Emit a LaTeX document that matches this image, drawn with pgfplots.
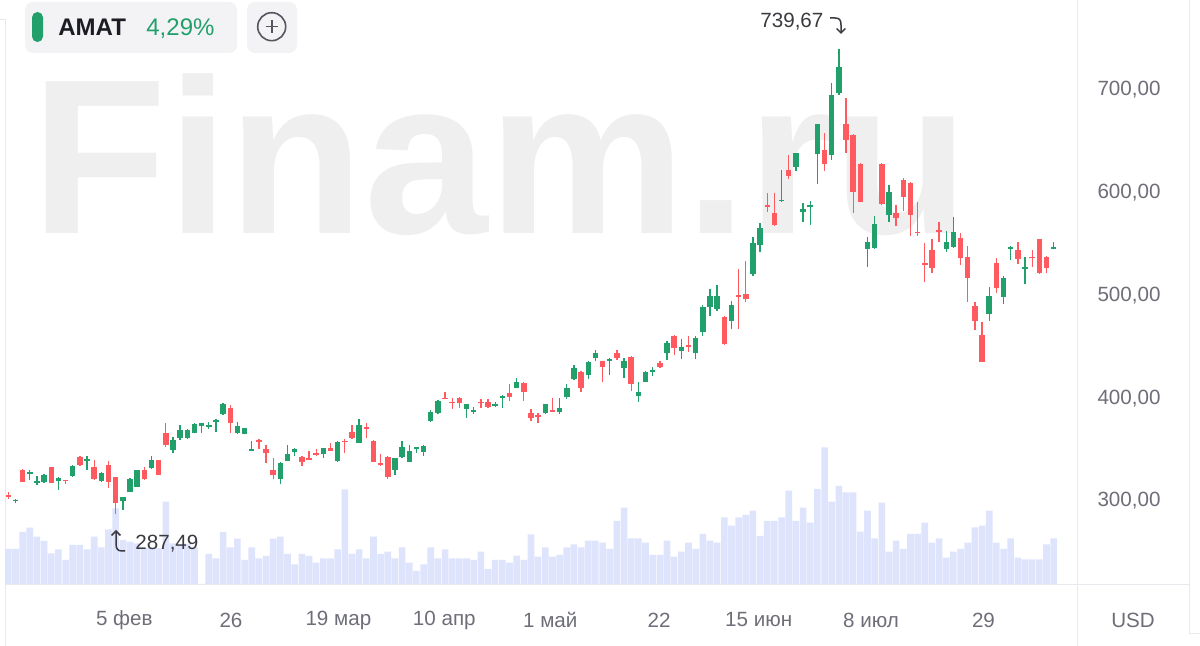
\documentclass[border=0pt]{standalone}
\usepackage{pgfplots}
\pgfplotsset{compat=1.18}
\usepackage{pgfplotstable}
\usepackage{fontspec}
\setmainfont{Liberation Sans}
\usetikzlibrary{arrows.meta}
\definecolor{cgreen}{HTML}{22A06B}
\definecolor{cred}{HTML}{FF5A5F}
\definecolor{cvol}{HTML}{DFE4FD}
\definecolor{cline}{HTML}{E8E8EE}
\definecolor{ctick}{HTML}{6E6E78}
\definecolor{cwm}{HTML}{EFEFEF}
\definecolor{cbox}{HTML}{F3F3F6}
\definecolor{cdark}{HTML}{1C1C24}
\definecolor{clab}{HTML}{3A3A40}
\definecolor{cplus}{HTML}{55555F}

\pgfplotstableread{
i o h l c
1 299.7 302.0 297.7 301.0
3 326.2 330.2 320.4 327.9
4 317.7 324.4 315.4 319.7
5 318.7 326.4 317.7 325.4
7 319.7 323.1 310.7 322.1
9 324.3 335.2 323.6 334.2
11 339.2 343.9 330.2 340.9
13 319.7 328.5 318.7 326.9
16 300.3 304.3 291.2 303.7
17 309.0 322.1 308.5 321.1
18 314.0 330.6 313.4 330.2
20 331.9 343.9 330.9 339.9
23 349.6 362.7 346.3 359.4
24 361.1 374.1 359.4 369.1
25 361.1 370.0 360.5 369.1
26 366.4 375.5 365.8 374.8
27 372.8 375.9 366.4 375.5
28 372.1 377.1 370.5 373.8
29 377.1 379.5 367.4 378.8
30 384.6 395.0 383.6 394.3
32 365.8 377.1 365.1 372.8
33 365.1 371.1 364.8 370.8
34 348.6 358.7 348.3 350.3
38 321.1 337.6 316.4 337.2
39 339.2 354.6 338.8 345.6
40 347.9 351.3 343.6 350.3
44 345.6 351.7 341.6 351.3
46 339.2 358.7 338.2 357.7
49 356.9 379.5 356.3 374.1
54 330.2 342.0 325.2 341.6
55 342.6 358.7 341.6 352.3
56 338.2 354.6 337.8 348.9
57 350.3 352.7 346.3 352.3
58 347.9 354.0 343.9 353.6
59 378.1 388.6 377.1 386.9
60 385.3 398.3 384.3 397.3
64 389.3 394.4 380.9 394.0
65 386.9 391.9 384.3 388.6
68 392.6 396.6 391.6 394.3
69 400.6 402.7 390.6 402.3
71 410.3 420.1 409.7 416.1
75 385.3 394.4 384.3 394.0
77 386.3 400.0 384.3 390.3
78 401.3 413.5 399.7 410.3
79 418.8 432.5 417.8 429.2
81 422.5 436.2 418.8 435.5
82 438.9 447.0 436.2 443.7
84 436.2 438.9 422.5 438.2
86 429.2 439.5 419.8 436.2
88 402.3 416.1 396.6 406.3
89 416.1 426.2 415.8 425.8
90 425.8 430.8 421.8 427.5
92 443.7 456.0 437.2 454.0
94 446.3 457.4 437.9 450.3
96 443.7 460.7 437.9 458.4
97 464.7 490.9 460.7 489.2
98 489.2 506.1 480.2 499.6
99 486.6 510.1 485.2 499.6
101 475.5 494.9 467.1 490.9
104 520.8 557.3 519.1 550.7
105 549.0 570.2 542.6 565.4
108 591.6 622.1 591.2 593.2
110 624.8 638.9 621.4 638.3
111 581.5 590.2 571.8 583.9
112 585.9 592.2 568.5 588.2
113 637.6 667.2 608.4 666.8
115 636.6 707.0 631.9 695.1
116 696.7 739.67 695.1 722.2
120 545.0 556.7 527.9 552.3
121 546.0 577.5 545.0 569.5
123 578.2 607.4 571.8 601.0
131 545.0 563.0 542.6 552.3
132 547.6 576.2 546.0 562.0
137 481.9 508.7 475.5 499.6
139 498.3 519.1 491.6 516.8
140 545.0 548.3 534.6 547.0
142 526.1 537.3 511.1 527.5
146 545.3 552.3 545.0 547.0
}\greentab

\pgfplotstableread{
i o h l c
0 305.7 309.0 301.7 304.3
2 330.2 330.9 318.2 318.7
6 332.9 333.5 317.1 317.7
8 320.4 320.8 316.4 319.1
10 342.6 343.9 334.2 334.9
12 333.5 339.9 320.4 321.1
14 335.2 338.5 312.3 318.7
15 323.1 323.5 287.49 297.7
19 330.2 333.5 320.4 321.1
21 339.9 340.3 324.9 325.2
22 365.8 375.5 352.9 354.6
31 390.3 393.6 365.8 375.5
35 359.4 360.4 350.3 357.7
36 350.3 354.6 336.6 346.3
37 330.2 341.6 321.1 325.2
41 343.2 343.9 334.2 338.2
42 341.6 348.6 339.5 339.9
43 346.3 350.3 344.0 344.3
45 351.3 356.9 348.5 348.9
47 358.7 360.1 346.3 357.4
48 367.4 374.1 360.1 361.1
50 371.8 376.1 361.1 369.8
51 358.7 359.1 337.8 338.2
52 337.2 345.6 334.5 334.9
53 343.2 343.9 321.1 323.7
61 400.6 406.3 398.9 399.3
62 396.6 400.0 389.3 395.0
63 400.0 401.6 390.6 395.0
66 396.6 399.3 390.6 395.0
67 396.6 399.3 390.6 391.6
70 404.7 413.5 397.3 401.3
72 415.1 416.1 397.3 405.7
73 385.3 389.6 377.8 380.3
74 383.6 385.3 375.5 381.9
76 388.6 400.0 386.5 386.9
80 425.8 426.2 405.7 410.3
83 436.2 436.6 416.1 430.5
85 443.7 447.0 437.2 438.9
87 440.5 440.9 407.0 413.5
91 434.2 436.2 429.8 430.5
93 460.7 461.7 442.0 448.7
95 452.0 460.7 445.3 450.3
100 479.5 480.2 451.7 452.7
102 500.6 525.5 467.1 498.3
103 501.6 533.9 493.9 496.3
106 588.2 599.4 581.5 585.9
107 579.9 599.4 567.5 568.5
109 622.1 636.6 613.1 616.1
114 641.6 657.8 621.4 627.9
117 666.8 691.9 638.3 651.3
118 656.3 656.7 580.5 601.0
119 627.9 629.2 590.8 591.2
122 627.9 629.2 588.0 588.9
124 580.5 588.2 567.5 575.1
125 612.4 614.1 582.5 596.0
126 609.7 610.1 558.0 578.2
127 562.0 591.2 558.0 560.4
128 531.2 550.7 513.4 529.6
129 544.3 554.7 521.5 526.5
130 563.7 571.8 552.3 561.7
133 555.7 561.0 529.6 536.2
134 537.8 548.3 493.9 516.8
135 489.9 493.9 466.4 475.5
136 461.7 474.5 435.1 435.5
138 531.2 536.2 502.7 507.1
141 544.3 552.3 530.6 535.3
143 537.8 544.3 527.9 536.2
144 554.7 555.1 521.1 521.5
145 537.2 538.5 521.5 526.5
}\redtab

\pgfplotstableread{
i v
0 35.0
1 35.0
2 52.0
3 56.3
4 47.3
5 43.0
6 30.7
7 34.7
8 24.0
9 39.0
10 39.0
11 34.7
12 47.3
13 36.7
14 54.7
15 75.7
16 44.0
17 42.3
18 40.7
19 36.0
20 36.0
21 36.0
22 82.3
23 40.7
24 40.0
25 40.0
26 36.7
27 0
28 30.0
29 25.7
30 52.0
31 36.7
32 45.3
33 24.0
34 36.7
35 25.7
36 28.0
37 45.3
38 47.3
39 30.0
40 19.7
41 30.0
42 28.0
43 21.3
44 25.7
45 25.7
46 34.7
47 94.7
48 30.0
49 34.7
50 25.7
51 47.3
52 30.0
53 32.3
54 25.7
55 36.7
56 21.3
57 13.0
58 19.7
59 36.7
60 25.7
61 34.7
62 25.7
63 25.7
64 25.7
65 24.0
66 32.3
67 15.0
68 24.0
69 24.0
70 21.3
71 28.3
72 24.0
73 49.7
74 27.3
75 36.7
76 27.3
77 29.0
78 36.7
79 39.7
80 36.7
81 43.3
82 43.3
83 41.3
84 35.0
85 63.0
86 76.3
87 45.7
88 45.7
89 41.3
90 29.0
91 29.0
92 43.3
93 27.3
94 32.3
95 41.3
96 35.0
97 50.0
98 43.3
99 41.3
100 66.7
101 58.3
102 66.7
103 69.0
104 73.3
105 48.0
106 63.0
107 63.0
108 66.7
109 93.3
110 63.0
111 76.3
112 61.3
113 95.0
114 136.7
115 82.3
116 98.0
117 91.7
118 91.7
119 52.3
120 73.3
121 45.7
122 81.3
123 32.3
124 43.3
125 35.0
126 50.0
127 50.0
128 61.3
129 41.3
130 45.7
131 26.3
132 32.3
133 35.0
134 41.3
135 56.7
136 58.3
137 73.3
138 41.3
139 35.0
140 45.7
141 26.3
142 24.7
143 24.7
144 24.7
145 39.7
146 45.7
}\voltab

\begin{document}
\begin{tikzpicture}[x=0.5pt,y=0.5pt]
\path[use as bounding box, fill=white] (0,0) rectangle (1200,646);
% watermark
\node[anchor=base west, inner sep=0, text=cwm, font=\fontsize{110.3}{110}\selectfont\bfseries, xscale=1.007] at (31,412) {Finam.ru};
% frame lines
\draw[cline, line width=0.5pt] (5.5,0) -- (5.5,626) (0,626) -- (5.5,626);
\draw[cline, line width=0.5pt] (5.5,61.5) -- (1189,61.5);
\draw[cline, line width=0.5pt] (1077,0) -- (1077,646);
\draw[cline, line width=0.5pt] (1189,646) -- (1189,12) -- (1200,12);
% volume
\begin{axis}[at={(2.5pt,31pt)}, anchor=south west, width=536pt, height=292pt, scale only axis,
  xmin=-0.461, xmax=149.26, ymin=0, ymax=584, hide axis, clip=false]
\addplot[ybar, bar width=0.92, fill=cvol, draw=none] table[x=i,y=v]{\voltab};
\end{axis}
% candles
\begin{axis}[at={(2.5pt,31pt)}, anchor=south west, width=536pt, height=292pt, scale only axis,
  xmin=-0.461, xmax=149.26, ymin=219.2, ymax=787.6,
  axis line style={draw=none}, major tick length=0pt, clip=false,
  ytick={300,400,500,600,700}, yticklabel pos=right,
  /pgf/number format/assume math mode=true,
  yticklabel={\pgfmathprintnumber[fixed,fixed zerofill,precision=2,use comma,1000 sep={}]{\tick}},
  yticklabel style={anchor=center, xshift=26pt, text=ctick, font=\fontsize{10.3}{12}\selectfont},
  xtick={16.2,31.1,46.1,60.9,75.7,90.9,104.8,120.5,136.2},
  xticklabels={5 фев,26,19 мар,10 апр,1 май,22,15 июн,8 июл,29},
  xticklabel style={anchor=center, yshift=-18pt, text=ctick, font=\fontsize{10.3}{12}\selectfont},
  candle/.style={only marks, mark=*, mark size=0pt, mark options={draw opacity=0, fill opacity=0},
    error bars/y dir=plus, error bars/y explicit, error bars/error mark=none}]
\addplot[cgreen, candle, error bars/error bar style={line width=0.65pt, cgreen}]
  table[x=i, y=l, y error plus expr=\thisrow{h}-\thisrow{l}]{\greentab};
\addplot[cgreen, candle, error bars/error bar style={line width=2.75pt, cgreen}]
  table[x=i, y=o, y error plus expr=\thisrow{c}-\thisrow{o}]{\greentab};
\addplot[cred, candle, error bars/error bar style={line width=0.65pt, cred}]
  table[x=i, y=l, y error plus expr=\thisrow{h}-\thisrow{l}]{\redtab};
\addplot[cred, candle, error bars/error bar style={line width=2.75pt, cred}]
  table[x=i, y=c, y error plus expr=\thisrow{o}-\thisrow{c}]{\redtab};
\end{axis}
% USD
\node[text=ctick, font=\fontsize{10.3}{12}\selectfont] at (1133,26) {USD};
% header
\fill[cbox, rounded corners=4pt] (25,644) rectangle (237,593);
\fill[cgreen, rounded corners=2.7pt] (32,634) rectangle (43,604);
\node[anchor=base west, inner sep=0, text=cdark, font=\fontsize{12}{13}\selectfont\bfseries] at (58,610) {AMAT};
\node[anchor=base west, inner sep=0, text=cgreen, font=\fontsize{12}{13}\selectfont] at (146,610) {4,29\%};
\fill[cbox, rounded corners=4pt] (247,644) rectangle (297,593);
\draw[cplus, line width=0.8pt] (271.7,619.3) circle (7pt);
\draw[cplus, line width=0.8pt] (265.5,619.3) -- (277.9,619.3) (271.7,613.1) -- (271.7,625.5);
% extreme labels
\node[anchor=base west, inner sep=0, text=clab, font=\fontsize{10.3}{12}\selectfont] at (760,618) {739,67};
\draw[clab, line width=0.75pt, -{Straight Barb[length=2.2pt,width=4.4pt]}] (830,628) -- (835,628) .. controls (839.5,628) and (841,626) .. (841,621) -- (841,612);
\node[anchor=base west, inner sep=0, text=clab, font=\fontsize{10.3}{12}\selectfont] at (135,96) {287,49};
\draw[clab, line width=0.75pt, -{Straight Barb[length=2.2pt,width=4.4pt]}] (125,95) -- (122,95) .. controls (118,95) and (116,97) .. (116,102) -- (116,116);
\end{tikzpicture}
\end{document}
